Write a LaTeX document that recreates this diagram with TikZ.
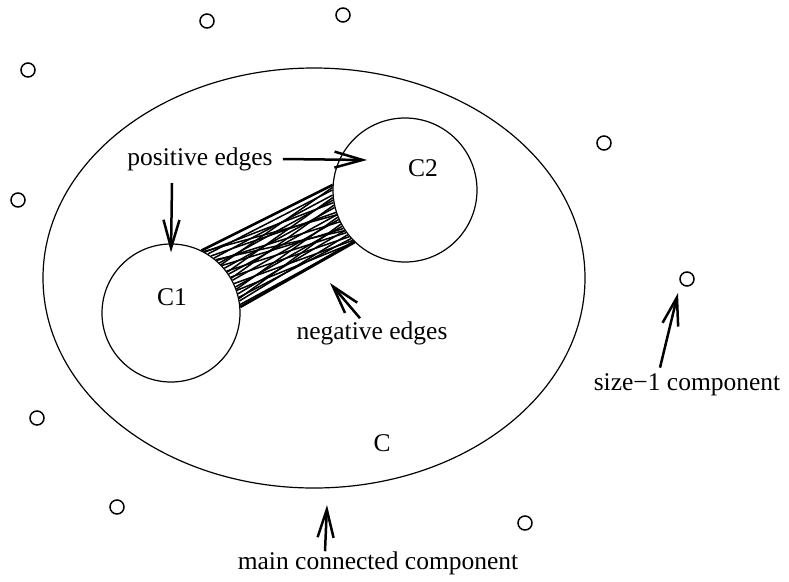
\documentclass[tikz,border=0pt]{standalone}
\usepackage{fontspec}
\setmainfont{Liberation Serif}
\usetikzlibrary{arrows.meta, shapes.geometric}

\begin{document}
\begin{tikzpicture}[x=1pt, y=-1pt,
    comp/.style={draw, circle, line width=1.2pt, inner sep=0pt, minimum size=#1},
    single/.style={draw, circle, line width=1.5pt, inner sep=0pt, minimum size=14pt},
    lbl/.style={font=\fontsize{25.5}{30}\selectfont, inner sep=0pt},
    pointer/.style={-{Straight Barb[length=28pt, width=16pt]}, line width=2.5pt},
    link/.style={line width=1.5pt},
]
\useasboundingbox (0,0) rectangle (789,581);

% main component and its two clusters
\node[draw, ellipse, line width=1.2pt, inner sep=0pt, minimum width=542pt, minimum height=420pt] (cc) at (314,278) {};
\node[comp=138pt] (c1) at (171,313) {};
\node[comp=144pt] (c2) at (405,190) {};
\node[lbl] (c1lbl) at (172,297) {C1};
\node[lbl] (c2lbl) at (423,168) {C2};
\node[lbl] (clbl) at (382,443) {C};

% edges between C1 and C2
\foreach \a/\b in {64/176, 61/190, 58/180, 55/198, 52/184, 49/206, 46/188, 43/212,
                   40/194, 37/216, 34/200, 31/220, 28/204, 25/224, 22/210, 19/226,
                   16/214, 13/222, 10/218, 7/226, 5/225, 62/200, 44/178, 30/192,
                   50/214, 20/202, 36/186, 12/208}
    \draw[link] (c1.\a) -- (c2.\b);
\draw[line width=2.6pt] (c1.64) -- (c2.176);
\draw[line width=2.6pt] (c1.5) -- (c2.226);

% size-1 components
\foreach \p [count=\i] in {(207,21), (343,15), (28,70), (604,143), (18,200),
                           (687,279), (37,418), (117,507), (525,523)}
    \node[single] (s\i) at \p {};

% labels
\node[lbl] (pos) at (200,159) {positive edges};
\node[lbl] (neg) at (372,333) {negative edges};
\node[lbl] (sz) at (687,385) {size−1 component};
\node[lbl] (main) at (378,563) {main connected component};

\coordinate (postip) at (367,160);
\coordinate (vtail) at (172,183);
\coordinate (negtip) at (330,283);
\coordinate (sztip) at (678,293);
\coordinate (maintip) at (327,505);

\draw[pointer] ([xshift=10pt]pos.east) -- (postip);
\draw[pointer] (vtail) -- ([yshift=-9pt]c1.north);
\draw[pointer] ([xshift=-12pt,yshift=3pt]neg.north) -- (negtip);
\draw[pointer] ([xshift=-27pt,yshift=6pt]sz.north) -- (sztip);
\draw[pointer] ([xshift=-53pt]main.north) -- (maintip);

\end{tikzpicture}
\end{document}
